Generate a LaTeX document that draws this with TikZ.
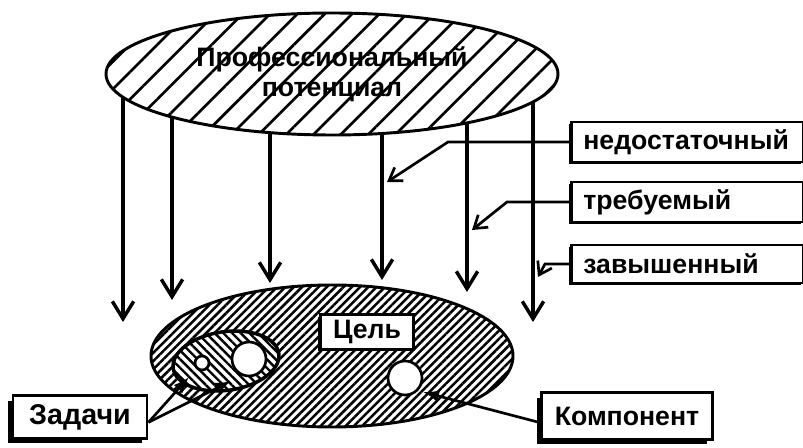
\documentclass[tikz,border=0pt]{standalone}
\usepackage{fontspec}
\setmainfont{Liberation Sans}
\usetikzlibrary{arrows.meta,patterns.meta,shadows,shapes.geometric,positioning,calc,backgrounds}

\tikzset{
  lbl/.style={font=\bfseries\fontsize{20}{24}\selectfont},
  shade box/.style={drop shadow={shadow xshift=-#1, shadow yshift=-#1,
      fill=black, opacity=1}},
  rbox/.style={lbl, draw, line width=2pt, fill=white, anchor=west,
      minimum height=30pt, text width=156pt, inner xsep=9pt, align=left,
      shade box=1.5pt},
  sbox/.style={lbl, draw, line width=2.2pt, fill=white, inner xsep=9pt,
      shade box=3.8pt},
  hole/.style={circle, draw, line width=2pt, fill=white, inner sep=0pt},
  varrow/.style={line width=2.6pt, -{Straight Barb[length=13pt,width=16pt]}},
  parrow/.style={line width=2pt, -{Straight Barb[length=9pt,width=12pt]}},
  farrow/.style={line width=2pt, -{Latex[length=12pt,width=9pt]}},
}

\begin{document}
\begin{tikzpicture}[x=0.75pt,y=-0.75pt]
  \useasboundingbox (0,0) rectangle (803,448);

  % potential
  \node[ellipse, draw, line width=2.2pt, minimum width=339pt, minimum height=91.5pt,
    preaction={fill=white},
    pattern={Lines[angle=45,distance=14.5pt,line width=2pt]},
    align=center, font=\bfseries\fontsize{20}{22.5}\selectfont]
    (pot) at (332,74) {Профессиональный\\потенциал};

  % arrow ends
  \foreach \x/\y [count=\i] in {123/322,172/300,270/283,382/280,467/292,533/322}
    \coordinate (t\i) at (\x,\y);
  \begin{scope}[on background layer]
    \foreach \i in {1,...,6}
      \draw[varrow] (pot.center -| t\i) -- (t\i);
  \end{scope}

  % goal
  \node[ellipse, draw, line width=2.2pt, minimum width=271.5pt, minimum height=106.5pt,
    preaction={fill=white},
    pattern={Lines[angle=45,distance=4.4pt,line width=1.9pt]}]
    (goal) at (332,356) {};
  \node[ellipse, draw, line width=2.6pt, minimum width=80pt, minimum height=44pt,
    rotate=8, preaction={fill=white},
    pattern={Lines[angle=-45,distance=4.6pt,line width=1.8pt]}]
    (tasks) at (226,361) {};
  \node[hole, minimum size=10.5pt] (c1) at (202,363) {};
  \node[hole, minimum size=25.5pt] (c2) at (249,359) {};
  \node[hole, minimum size=25.5pt] (c3) at (405,378) {};
  \node[lbl, draw, line width=2pt, fill=white, minimum width=70pt,
    minimum height=26pt, shade box=1.5pt] (cel) at (367,332) {Цель};

  % levels
  \node[rbox] (nedo) at (570,142) {недостаточный};
  \node[rbox] (treb) at (570,202) {требуемый};
  \node[rbox, minimum height=28.5pt] (zav) at (570,264) {завышенный};
  \coordinate (p1) at (387,182);
  \coordinate (p2) at (472,230);
  \coordinate (p3) at (538,277);
  \draw[parrow] (nedo.west) -- ++(-122,0) -- (p1);
  \draw[parrow] (treb.west) -- ++(-63,0) -- (p2);
  \draw[parrow] (zav.west) -- ++(-25,0) -- (p3);

  % tasks and component
  \node[sbox, minimum width=100.5pt, minimum height=32pt,
    font=\bfseries\fontsize{21.5}{24}\selectfont] (zad) at (80,417) {Задачи};
  \node[sbox, minimum width=128pt, minimum height=35pt] (komp) at (627,416) {Компонент};
  \coordinate (z1) at (189,377);
  \coordinate (z2) at (231,381);
  \coordinate (k1) at (423,392);
  \draw[farrow] ([yshift=-4pt]zad.east) -- (z1);
  \draw[farrow] ([yshift=-4pt]zad.east) -- (z2);
  \draw[farrow] ([yshift=-5pt]komp.west) -- (k1);
\end{tikzpicture}
\end{document}
